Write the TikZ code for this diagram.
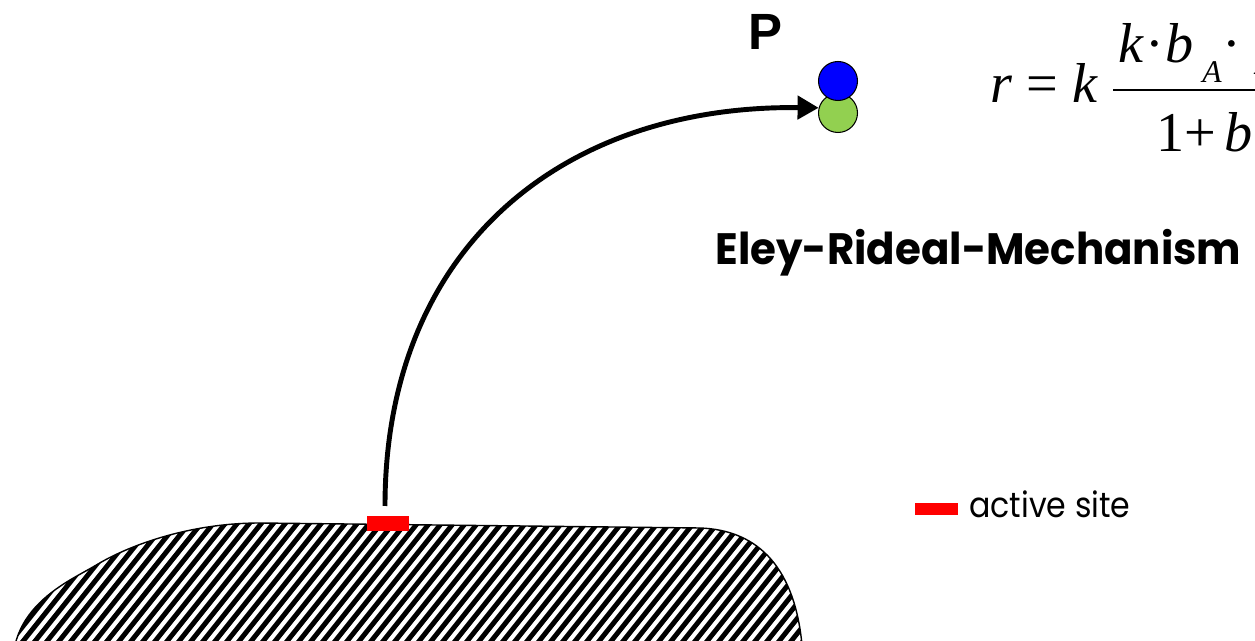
\documentclass[tikz,border=0pt]{standalone}
\usepackage{fontspec}
\setsansfont{Liberation Sans}
\newfontfamily\geo{Poppins}
\newfontfamily\tms{Liberation Serif}
\usetikzlibrary{arrows.meta}
\definecolor{atomgreen}{RGB}{146,208,80}
\definecolor{atomblue}{RGB}{0,0,255}
\definecolor{sitered}{RGB}{255,0,0}
\newcommand{\subA}{\raisebox{-11pt}{\tms\fontsize{18}{18}\selectfont\itshape A}}
\tikzset{
  atom/.style={circle,draw=black,line width=0.6pt,minimum size=0.78cm,inner sep=0pt},
  hatchline/.style={line width=2.8pt,black},
  flight/.style={line width=2.8pt,-{Triangle[length=12pt,width=13pt]}},
  sitebox/.style={fill=sitered,draw=none,inner sep=0pt},
  eqtext/.style={anchor=base west,inner sep=0pt,font=\tms\fontsize{32}{38}\selectfont},
}
\begin{document}
\begin{tikzpicture}[x=0.02cm,y=-0.02cm]
\useasboundingbox (0,0) rectangle (1255,641);
\clip (0,0) rectangle (1255,641);
% surface
\begin{scope}
\clip (15,645) .. controls (22,615) and (45,595) .. (70,580)
  .. controls (80,574) and (88,570) .. (98,564)
  .. controls (130,545) and (190,523) .. (260,523)
  -- (700,528) .. controls (760,530) and (795,570) .. (802,645) -- cycle;
\foreach \x in {-220,-208,...,900} {
  \draw[hatchline] (\x,660) -- (\x+120,510);
}
\end{scope}
\draw[line width=0.8pt] (15,645) .. controls (22,615) and (45,595) .. (70,580)
  .. controls (80,574) and (88,570) .. (98,564)
  .. controls (130,545) and (190,523) .. (260,523)
  -- (700,528) .. controls (760,530) and (795,570) .. (802,645);
% active site
\node[sitebox,minimum width=0.86cm,minimum height=0.30cm] (site) at (388,524) {};
\coordinate (start) at (385,506);
% atoms
\node[atom,fill=atomgreen] (green) at (838,113) {};
\node[atom,fill=atomblue] (blue) at (838,81) {};
\node[font=\sffamily\bfseries\fontsize{29}{34}\selectfont] (P) at (765,32) {P};
% flight path
\draw[flight] (start) .. controls (385,250) and (560,105) .. (green.165);
% formula
\node[eqtext] (lhs) at (990,103) {\itshape r\/ \upshape= \itshape k};
\draw[line width=0.9pt] (1113,90) -- (1260,90);
\node[eqtext] (num) at (1118,63) {\itshape k\upshape\kern1pt·\kern1pt\itshape b\kern5pt\subA\upshape\kern0.5pt·\kern9pt\itshape p\kern5pt\subA};
\node[eqtext] (den) at (1156,152) {1+\kern5pt\itshape b\kern5pt\subA};
% title
\node[anchor=base west,inner sep=0pt,font=\geo\bfseries\fontsize{25}{30}\selectfont] (title) at (715,265) {\scalebox{0.955}[1]{Eley-Rideal-Mechanism}};
% legend
\node[sitebox,minimum width=0.86cm,minimum height=0.24cm] (legbox) at (936,509) {};
\node[anchor=base west,inner sep=0pt,font=\geo\fontsize{20}{24}\selectfont] (legtext) at (969,518) {\scalebox{0.9}[1]{active site}};
\end{tikzpicture}
\end{document}
